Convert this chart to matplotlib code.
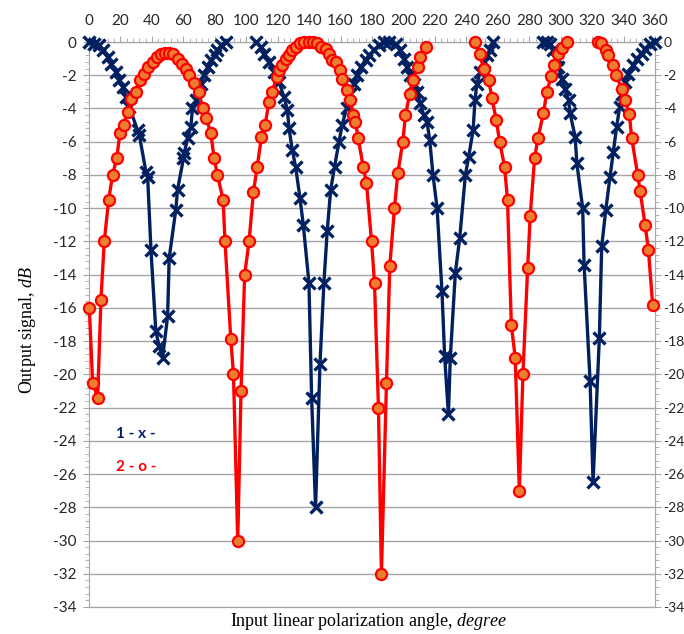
import numpy as np
import matplotlib
matplotlib.use("Agg")
import matplotlib.pyplot as plt
from matplotlib.ticker import MultipleLocator

plt.rcParams['font.family'] = ['Lato', 'DejaVu Sans']
plt.rcParams['mathtext.fontset'] = 'custom'
plt.rcParams['mathtext.rm'] = 'Liberation Serif'
plt.rcParams['mathtext.it'] = 'Liberation Serif:italic'

nan = np.nan

# series 1 (x markers)
angle_1 = [0, 3.4, 6.5, 8.7, 11.9, 14, 17.1, 19.3, 21.4, 23.5, 25.6, 30.9, 32, 36.2, 37.3,
           39.4, 42.5, 44.6, 46.8, 50, 51, 55.2, 56.3, 60.1, 60.5, 62.7, 64.8, 65.8, 68,
           71.1, 73.2, 75.4, 77.9, 80, 81.7, 84.2, 87, nan,
           106, 109.2, 111.3, 114.5, 117.7, 120.8, 124, 126.2, 127.2, 129.3, 131.4, 134.2,
           136.3, 139.9, 141.6, 144.1, 146.9, 149.4, 151.5, 153.7, 156.2, 159, 161, 163.8,
           166.3, 168.4, 170.6, 172.7, 175.9, 178, 181.1, 184.3, 187.5, 190.7, 195, 198,
           200.2, 202.3, 204.4, 206.5, 208.7, 210.8, 212.9, 215, 216.7, 218.8, 221.4, 224.5,
           226.2, 228.6, 229.8, 233, 235.8, 239.4, 241.5, 244.3, 245.5, 246.7, 248.9, 251,
           253.1, 254.8, 257, nan,
           289, 291.2, 293.3, 295, 297.6, 298.6, 300.8, 302.9, 305, 306, 309.2, 310.3, 314,
           314.9, 318.7, 320.6, 324.6, 326.1, 328.7, 331.4, 333.5, 335.6, 337.5, 338.8, 341,
           343.1, 346.3, 348.3, 351.5, 353.7, 356.8, 360]
signal_1 = [0, -0.1, -0.2, -0.5, -0.9, -1.3, -1.8, -2.3, -2.7, -3.3, -3.9, -5.3, -5.6, -7.8, -8.1,
            -12.5, -17.4, -18.3, -19.0, -16.5, -13.0, -10.1, -8.9, -7.0, -6.7, -5.8, -5.1, -4.0, -3.5,
            -2.5, -2.0, -1.5, -1.1, -0.8, -0.5, -0.2, 0, nan,
            0, -0.3, -0.7, -1.2, -1.8, -2.4, -3.3, -4.1, -5.2, -6.5, -7.5, -9.4,
            -11.0, -14.5, -21.4, -28.0, -19.4, -14.5, -11.4, -8.9, -7.5, -6.0, -5.0, -4.0,
            -3.1, -2.5, -2.0, -1.5, -1.1, -0.8, -0.5, -0.2, 0, 0, -0.1, -0.5,
            -1.0, -1.5, -2.0, -2.5, -3.0, -3.7, -4.4, -4.8, -5.9, -8.0, -10.0, -15.0,
            -18.9, -22.4, -19.0, -13.9, -11.8, -8.0, -6.9, -5.3, -3.5, -2.5, -1.8, -1.2,
            -0.8, -0.5, 0, nan,
            0, 0, -0.1, -0.5, -1.0, -1.5, -2.2, -2.8, -3.5, -4.3, -5.7, -7.3, -10.0,
            -13.4, -20.4, -26.5, -17.8, -12.3, -10.1, -8.1, -6.6, -5.1, -3.9, -3.1, -2.4,
            -1.9, -1.4, -1.0, -0.7, -0.4, -0.1, 0]

# series 2 (o markers)
angle_2 = [0.2, 2.3, 5.5, 7.6, 9.7, 12.5, 15, 17.6, 19.7, 22, 24.5, 26.7, 30, 32.4, 35, 37.7,
           40.4, 43, 45.7, 48.3, 51, 53.7, 56.3, 58.9, 61.6, 63.7, 66.5, 70, 72.2, 74.7, 77.5,
           79.6, 81.7, 85.3, 86.5, 90.2, 91.9, 94.6, 96.7, 99, 101.8, 104.6, 107, 109.7, 112,
           114.5, 116.4, 119.4, 120.8, 123, 125, 127.2, 129.3, 131.8, 134.2, 136.7, 139.9,
           142.7, 145.2, 147.3, 150.5, 152.6, 154.7, 156.8, 159.6, 161, 163.8, 166.3, 168,
           169.5, 171.2, 174.4, 176.5, 179.7, 181.6, 184.1, 186, 189.2, 191.3, 194.3, 196.4,
           199.6, 201.3, 204, 206.2, 209.1, 210.8, 214.4, nan,
           245.7, 248.4, 251, 254.2, 256.3, 259, 261.2, 264.3, 266.2, 268.6, 271.1, 273.7,
           276, 279, 280.6, 283.4, 285.5, 289, 291.2, 294, 295.5, 298, 300.8, 303.9, nan,
           323.6, 325.7, 328.7, 330.4, 333.5, 335.2, 338.8, 341, 343.7, 345.2, 349, 350.5,
           353.7, 355.8, 358.5]
signal_2 = [-16.0, -20.5, -21.4, -15.5, -12.0, -9.5, -8.0, -7.0, -5.5, -5.0, -4.2, -3.45, -3.0,
            -2.3, -1.9, -1.5, -1.2, -0.9, -0.75, -0.68, -0.68, -0.75, -1.0, -1.3, -1.6, -2.0,
            -2.45, -3.0, -4.0, -4.6, -5.5, -7.0, -8.0, -9.5, -12.0, -17.9, -20.0, -30.0, -21.0,
            -14.0, -12.0, -9.0, -7.5, -5.7, -5.0, -3.6, -3.0, -2.1, -1.7, -1.4, -1.05, -0.8,
            -0.5, -0.28, -0.08, 0, 0, 0, -0.04, -0.28, -0.44, -0.74, -1.08, -1.2, -1.7, -2.2,
            -2.9, -3.5, -4.4, -4.8, -5.8, -7.5, -8.5, -12.0, -14.5, -22.0, -32.0, -20.5, -13.5,
            -10.0, -7.9, -6.0, -4.4, -3.1, -2.3, -1.5, -0.9, -0.28, nan,
            0, -0.7, -1.6, -2.3, -3.35, -4.7, -6.0, -7.5, -9.5, -17.0, -19.0, -27.0,
            -20.0, -13.6, -10.5, -7.0, -5.8, -4.3, -3.0, -2.05, -1.4, -0.72, -0.38, 0, nan,
            0, -0.08, -0.48, -0.78, -1.4, -2.0, -2.8, -3.5, -4.35, -5.8, -8.0, -8.95,
            -11.0, -12.5, -15.8]

navy = '#002060'
gray = '#a6a6a6'
tick_color = '#262626'

fig = plt.figure(figsize=(6.84, 6.34), dpi=100)
ax = fig.add_axes([89 / 684, 1 - 607 / 634, (655 - 89) / 684, (607 - 42) / 634])

ax.plot(angle_1, signal_1, '-', color=navy, lw=2.4, marker='x', ms=9, mew=2.4,
        clip_on=False, zorder=3)
ax.plot(angle_2, signal_2, '-', color='#ff0000', lw=2.4, marker='o', ms=8,
        mfc='#ed7d31', mec='#ff0000', mew=1.6, clip_on=False, zorder=4)

ax.set_xlim(0, 360)
ax.set_ylim(-34, 0)
fmt = plt.FuncFormatter(lambda v, p: '%d' % v)
ax.xaxis.set_major_locator(MultipleLocator(20))
ax.xaxis.set_minor_locator(MultipleLocator(4))
ax.yaxis.set_major_locator(MultipleLocator(2))
ax.yaxis.set_minor_locator(MultipleLocator(0.4))
ax.yaxis.set_major_formatter(fmt)

ax.xaxis.tick_top()
ax.tick_params(axis='x', which='both', top=True, bottom=False, direction='out',
               colors=gray, labelcolor=tick_color, labelsize=11, pad=6)
ax.tick_params(axis='y', which='both', left=True, right=False, direction='out',
               colors=gray, labelcolor=tick_color, labelsize=11, pad=5)
ax.tick_params(which='major', length=4)
ax.tick_params(which='minor', length=3)

# secondary value axis on the right
ax2 = ax.twinx()
ax2.set_ylim(-34, 0)
ax2.yaxis.set_major_locator(MultipleLocator(2))
ax2.yaxis.set_minor_locator(MultipleLocator(0.4))
ax2.yaxis.set_major_formatter(fmt)
ax2.tick_params(axis='y', which='both', direction='out', colors=gray,
                labelcolor=tick_color, labelsize=10, pad=2)
ax2.tick_params(which='major', length=4)
ax2.tick_params(which='minor', length=3)
ax2.set_zorder(-1)

ax.grid(axis='y', color=gray, lw=1)
ax.set_axisbelow(True)
for a in (ax, ax2):
    for s in ['top', 'left', 'right', 'bottom']:
        a.spines[s].set_color(gray)

fig.text(28 / 684, 1 - 330 / 634, 'Output signal, $dB$', rotation=90, ha='center',
         va='center', fontsize=13, family='Liberation Serif')
fig.text(368 / 684, 1 - 621 / 634, 'Input linear polarization angle, $degree$',
         ha='center', va='center', fontsize=13, family='Liberation Serif')

ax.text(17, -23.6, '1 - x -', color=navy, fontsize=11, fontweight='bold', va='center')
ax.text(17, -25.6, '2 - o -', color='#ff0000', fontsize=11, fontweight='bold', va='center')

fig.savefig('out.png', dpi=100)
